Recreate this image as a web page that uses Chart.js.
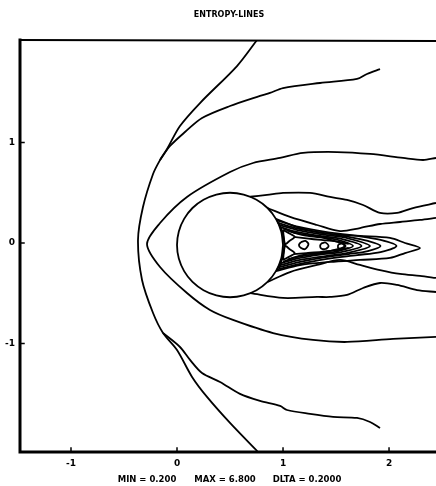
<!DOCTYPE html>
<html>
<head>
<meta charset="utf-8">
<script src="https://cdn.jsdelivr.net/npm/chart.js@4/dist/chart.umd.min.js"></script>
<style>
  html, body { margin: 0; padding: 0; background: #fff; }
  #wrap { width: 436px; height: 486px; }
</style>
</head>
<body>
<div id="wrap"><canvas id="c" width="436" height="486"></canvas></div>
<script>
// ---- text and ticks ----
const titleText = 'ENTROPY-LINES';
const footerText = ['MIN = 0.200', 'MAX = 6.800', 'DLTA = 0.2000'];
const xTicks = [-1, 0, 1, 2];
const yTicks = [-1, 0, 1];

// ---- contour lines, [x, y] pairs ----
const bowShock = [
  [0.755, 2.02], [0.566, 1.761], [0.217, 1.393], [0.028, 1.164], [-0.094, 0.935],
  [-0.160, 0.826], [-0.226, 0.687], [-0.321, 0.358], [-0.368, 0.030], [-0.330, -0.368],
  [-0.226, -0.697], [-0.132, -0.896], [0.000, -1.065], [0.142, -1.333], [0.283, -1.532],
  [0.500, -1.791], [0.764, -2.080]
];
const upperBranch = [
  [-0.160, 0.826], [-0.066, 0.965], [0.075, 1.104], [0.236, 1.244], [0.500, 1.363],
  [0.783, 1.463], [0.877, 1.493], [1.000, 1.542], [1.349, 1.592], [1.698, 1.632],
  [1.792, 1.682], [1.915, 1.731]
];
const lowerBranch = [
  [-0.132, -0.896], [0.028, -1.035], [0.123, -1.164], [0.236, -1.294], [0.406, -1.383],
  [0.594, -1.502], [0.783, -1.572], [0.972, -1.622], [1.038, -1.662], [1.255, -1.701],
  [1.472, -1.731], [1.698, -1.741], [1.821, -1.781], [1.915, -1.841]
];
const envelope = [
  [2.443, 0.846], [2.321, 0.826], [2.132, 0.846], [1.821, 0.886], [1.509, 0.905],
  [1.189, 0.896], [0.972, 0.846], [0.717, 0.796], [0.500, 0.706], [0.094, 0.458],
  [-0.160, 0.199], [-0.283, -0.010], [-0.160, -0.239], [0.094, -0.498], [0.311, -0.667],
  [0.528, -0.766], [0.906, -0.896], [1.283, -0.965], [1.604, -0.985], [2.038, -0.955],
  [2.443, -0.935]
];
const cylinder = [
  [1.000, -0.020], [0.983, 0.115], [0.933, 0.240], [0.854, 0.348], [0.750, 0.430],
  [0.629, 0.482], [0.500, 0.500], [0.371, 0.482], [0.250, 0.430], [0.146, 0.348],
  [0.067, 0.240], [0.017, 0.115], [0.000, -0.020], [0.017, -0.155], [0.067, -0.280],
  [0.146, -0.388], [0.250, -0.470], [0.371, -0.522], [0.500, -0.540], [0.629, -0.522],
  [0.750, -0.470], [0.854, -0.388], [0.933, -0.280], [0.983, -0.155], [1.000, -0.020]
];
const wakeOuterTop = [
  [0.691, 0.46], [0.849, 0.478], [1.000, 0.498], [1.255, 0.498], [1.443, 0.458],
  [1.604, 0.428], [1.755, 0.378], [1.915, 0.299], [2.075, 0.299], [2.226, 0.348],
  [2.443, 0.398]
];
const wakeOuterBottom = [
  [0.691, -0.50], [1.000, -0.547], [1.321, -0.537], [1.443, -0.537], [1.604, -0.517],
  [1.755, -0.448], [1.915, -0.398], [2.075, -0.418], [2.264, -0.468], [2.443, -0.488]
];
const wakeSecondTop = [
  [0.854, 0.348], [1.066, 0.259], [1.321, 0.179], [1.538, 0.119], [1.726, 0.149],
  [1.915, 0.189], [2.104, 0.209], [2.292, 0.229], [2.443, 0.249]
];
const wakeSecondBottom = [
  [0.854, -0.388], [1.066, -0.289], [1.321, -0.219], [1.538, -0.169], [1.726, -0.219],
  [1.915, -0.269], [2.104, -0.308], [2.292, -0.328], [2.443, -0.348]
];
const wakeTipA = [
  [0.933, 0.24], [1.160, 0.149], [1.443, 0.090], [1.726, 0.070], [2.009, 0.050],
  [2.151, 0.000], [2.292, -0.050], [2.151, -0.100], [2.009, -0.149], [1.726, -0.169],
  [1.443, -0.189], [1.160, -0.219], [0.933, -0.280]
];
const wakeTipB = [
  [0.94, 0.225], [1.15, 0.16], [1.40, 0.11], [1.70, 0.07], [1.92, 0.03], [2.07, -0.03],
  [1.92, -0.09], [1.70, -0.12], [1.40, -0.16], [1.15, -0.21], [0.94, -0.265]
];
const wakeTipC = [
  [0.95, 0.20], [1.15, 0.14], [1.40, 0.095], [1.62, 0.06], [1.80, 0.02], [1.92, -0.03],
  [1.80, -0.08], [1.62, -0.11], [1.40, -0.14], [1.15, -0.19], [0.95, -0.245]
];
const wakeTipD = [
  [0.96, 0.18], [1.15, 0.125], [1.40, 0.08], [1.60, 0.05], [1.82, -0.03],
  [1.60, -0.10], [1.40, -0.13], [1.15, -0.17], [0.96, -0.225]
];
const wakeTipE = [
  [0.97, 0.16], [1.13, 0.11], [1.35, 0.07], [1.55, 0.04], [1.74, -0.03],
  [1.55, -0.09], [1.35, -0.115], [1.13, -0.155], [0.97, -0.205]
];
const wakeTipF = [
  [1.00, 0.145], [1.13, 0.095], [1.35, 0.06], [1.50, 0.035], [1.66, -0.03],
  [1.50, -0.085], [1.35, -0.105], [1.13, -0.14], [1.00, -0.185]
];
const wakeTipG = [
  [1.05, 0.12], [1.20, 0.075], [1.40, 0.045], [1.58, -0.03],
  [1.40, -0.09], [1.20, -0.115], [1.05, -0.16]
];
const coreTop = [[1.10, 0.06], [1.22, 0.045], [1.36, 0.03], [1.50, 0.015], [1.62, -0.01]];
const coreBottom = [[1.10, -0.11], [1.22, -0.10], [1.36, -0.088], [1.50, -0.072], [1.62, -0.048]];
const rearHug = [
  [0.955, 0.21], [0.995, 0.11], [1.012, -0.02], [0.995, -0.15], [0.955, -0.25]
];
const wedgeUpper = [[1.00, 0.13], [1.07, 0.09], [1.11, 0.06], [1.06, 0.02], [1.02, -0.01], [1.00, 0.13]];
const wedgeLower = [[1.00, -0.17], [1.07, -0.13], [1.11, -0.10], [1.06, -0.06], [1.02, -0.03], [1.00, -0.17]];
const eddyA = [[1.17, 0.01], [1.21, 0.02], [1.24, -0.01], [1.21, -0.06], [1.17, -0.05], [1.15, -0.02], [1.17, 0.01]];
const eddyB = [[1.36, -0.005], [1.40, 0.005], [1.43, -0.03], [1.40, -0.06], [1.36, -0.055], [1.35, -0.03], [1.36, -0.005]];
const eddyC = [[1.52, -0.015], [1.56, -0.005], [1.59, -0.03], [1.56, -0.055], [1.52, -0.05], [1.52, -0.015]];

const lines = [
  bowShock, upperBranch, lowerBranch, envelope, cylinder,
  wakeOuterTop, wakeOuterBottom, wakeSecondTop, wakeSecondBottom,
  wakeTipA, wakeTipB, wakeTipC, wakeTipD, wakeTipE, wakeTipF, wakeTipG,
  coreTop, coreBottom, rearHug, wedgeUpper, wedgeLower, eddyA, eddyB, eddyC
];

const INK = '#000';
const labelFont = { family: '"DejaVu Sans", sans-serif', size: 9, weight: 'bold' };

// frame, inward tick marks, title and footer
const framePlugin = {
  id: 'frame',
  afterDraw(chart) {
    const { ctx, chartArea: a, scales } = chart;
    ctx.save();
    ctx.strokeStyle = INK;
    ctx.lineCap = 'square';
    ctx.lineWidth = 3;
    ctx.beginPath();
    ctx.moveTo(a.left, a.top); ctx.lineTo(a.left, a.bottom); ctx.lineTo(a.right, a.bottom);
    ctx.stroke();
    ctx.lineWidth = 2;
    ctx.beginPath();
    ctx.moveTo(a.left, a.top); ctx.lineTo(a.right, a.top + 1);
    ctx.stroke();
    ctx.lineWidth = 1.5;
    ctx.beginPath();
    xTicks.forEach(v => {
      const px = scales.x.getPixelForValue(v);
      ctx.moveTo(px, a.bottom); ctx.lineTo(px, a.bottom - 4);
    });
    yTicks.forEach(v => {
      const py = scales.y.getPixelForValue(v);
      ctx.moveTo(a.left, py); ctx.lineTo(a.left + 4, py);
    });
    ctx.stroke();

    ctx.fillStyle = INK;
    ctx.textBaseline = 'middle';
    ctx.textAlign = 'center';
    ctx.font = 'bold 8px "DejaVu Sans", sans-serif';
    ctx.fillText(titleText, 229, 15);
    ctx.font = 'bold 8.5px "DejaVu Sans", sans-serif';
    ctx.fillText(footerText[0], 147, 480);
    ctx.fillText(footerText[1], 225, 480);
    ctx.fillText(footerText[2], 307, 480);
    ctx.restore();
  }
};

new Chart(document.getElementById('c'), {
  type: 'scatter',
  data: {
    datasets: lines.map(pts => ({
      data: pts.map(([x, y]) => ({ x, y })),
      showLine: true,
      borderColor: INK,
      borderWidth: 1.8,
      pointRadius: 0,
      tension: 0.3,
      fill: false
    }))
  },
  options: {
    responsive: false,
    animation: false,
    devicePixelRatio: 1,
    layout: { padding: { top: 40, left: 0, right: 0, bottom: 0 } },
    plugins: { legend: { display: false }, tooltip: { enabled: false }, title: { display: false } },
    scales: {
      x: {
        type: 'linear',
        min: -1.481,
        max: 2.443,
        afterBuildTicks: s => { s.ticks = xTicks.map(v => ({ value: v })); },
        afterFit: s => { s.height = 34; },
        grid: { display: false, drawTicks: false },
        border: { display: false },
        ticks: { color: INK, font: labelFont, padding: 6, maxRotation: 0, autoSkip: false }
      },
      y: {
        type: 'linear',
        min: -2.08,
        max: 2.02,
        afterBuildTicks: s => { s.ticks = yTicks.map(v => ({ value: v })); },
        afterFit: s => { s.width = 20; },
        grid: { display: false, drawTicks: false },
        border: { display: false },
        ticks: { color: INK, font: labelFont, padding: 5, autoSkip: false }
      }
    }
  },
  plugins: [framePlugin]
});
</script>
</body>
</html>
